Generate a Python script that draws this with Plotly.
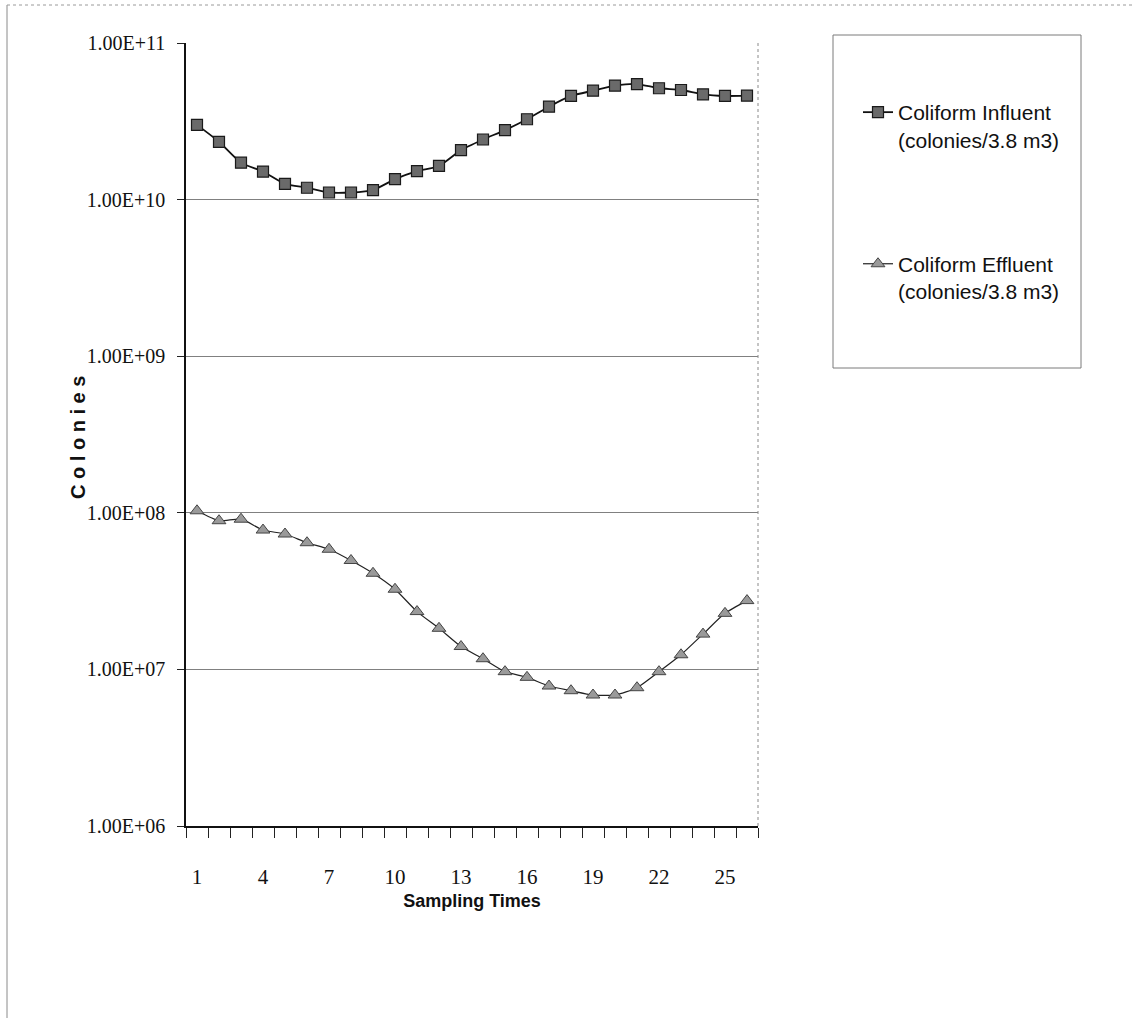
import plotly.graph_objects as go

# Sampling times 1..26
sampling_times = list(range(1, 27))

# Coliform counts (colonies / 3.8 m3)
influent = [3.0e10, 2.34e10, 1.72e10, 1.51e10, 1.26e10, 1.19e10, 1.11e10, 1.11e10,
            1.15e10, 1.35e10, 1.52e10, 1.64e10, 2.07e10, 2.42e10, 2.78e10, 3.26e10,
            3.92e10, 4.59e10, 4.96e10, 5.34e10, 5.47e10, 5.14e10, 5.01e10, 4.70e10,
            4.59e10, 4.61e10]
effluent = [1.03e8, 8.9e7, 9.1e7, 7.76e7, 7.32e7, 6.44e7, 5.85e7, 4.96e7,
            4.11e7, 3.25e7, 2.34e7, 1.83e7, 1.40e7, 1.17e7, 9.67e6, 8.9e6,
            7.83e6, 7.31e6, 6.86e6, 6.86e6, 7.64e6, 9.67e6, 1.24e7, 1.68e7,
            2.28e7, 2.75e7]

x_tick_labels = [1, 4, 7, 10, 13, 16, 19, 22, 25]
y_tick_vals = [1e6, 1e7, 1e8, 1e9, 1e10, 1e11]
y_tick_text = ["1.00E+06", "1.00E+07", "1.00E+08", "1.00E+09", "1.00E+10", "1.00E+11"]

SERIF = "Liberation Serif, Times New Roman, serif"
NARROW = "Liberation Sans Narrow, Arial Narrow, Liberation Sans, Arial, sans-serif"
SANS = "Liberation Sans, Arial, sans-serif"

W, H = 1135, 1018
ML, MR, MT, MB = 186, 377, 43, 192
PW, PH = W - ML - MR, H - MT - MB


def px(xp):
    return (xp - ML) / PW


def py(yp):
    return (H - MB - yp) / PH


fig = go.Figure()

fig.add_trace(go.Scatter(
    x=sampling_times, y=influent, mode="lines+markers",
    name="Coliform Influent<br>(colonies/3.8 m3)",
    line=dict(color="#111111", width=1.8, shape="spline", smoothing=0.6),
    marker=dict(symbol="square", size=11, color="#6a6a6a",
                line=dict(color="#1a1a1a", width=1.2)),
    legendgroup="inf",
))
fig.add_trace(go.Scatter(
    x=sampling_times, y=effluent, mode="lines+markers",
    name="Coliform Effluent<br>(colonies/3.8 m3)",
    line=dict(color="#222222", width=1.2, shape="spline", smoothing=0.6),
    marker=dict(symbol="triangle-up", size=12, color="#9a9a9a",
                line=dict(color="#444444", width=1)),
    legendgroup="eff",
))

fig.update_layout(
    width=W, height=H,
    margin=dict(l=ML, r=MR, t=MT, b=MB),
    paper_bgcolor="white", plot_bgcolor="white",
    showlegend=True,
    legend=dict(
        x=px(858), y=py(92), xanchor="left", yanchor="top",
        font=dict(family=NARROW, size=21, color="#111111"),
        bgcolor="rgba(0,0,0,0)", borderwidth=0,
        valign="top", tracegroupgap=94, traceorder="grouped",
    ),
    xaxis=dict(
        range=[0.5, 26.5],
        tickmode="array", tickvals=x_tick_labels,
        ticktext=[str(v) for v in x_tick_labels],
        ticks="", ticklabelstandoff=31,
        tickfont=dict(family=SERIF, size=21, color="#111111"),
        showgrid=False, zeroline=False,
        showline=True, linecolor="#111111", linewidth=1.5,
        minor=dict(tickmode="linear", tick0=0.5, dtick=1, ticks="outside",
                   ticklen=10, tickcolor="#222222", tickwidth=1, showgrid=False),
        title=dict(text="<b>Sampling Times</b>", standoff=6,
                   font=dict(family=NARROW, size=18, color="#111111")),
    ),
    yaxis=dict(
        type="log", range=[6, 11],
        tickmode="array", tickvals=y_tick_vals, ticktext=y_tick_text,
        ticks="outside", ticklen=7, tickcolor="#222222", ticklabelstandoff=8,
        tickfont=dict(family=SERIF, size=20, color="#111111"),
        showgrid=True, gridcolor="#808080", gridwidth=1,
        zeroline=False,
        showline=True, linecolor="#111111", linewidth=1.5,
    ),
    annotations=[
        dict(text="<b>C o l o n i e s</b>", xref="paper", yref="paper",
             x=px(78), y=py(438), xanchor="center", yanchor="middle",
             textangle=-90, showarrow=False,
             font=dict(family=SANS, size=20, color="#111111")),
    ],
    shapes=[
        # legend frame
        dict(type="rect", xref="paper", yref="paper",
             x0=px(833), x1=px(1081), y0=py(368), y1=py(35),
             line=dict(color="#7a7a7a", width=1), fillcolor="rgba(0,0,0,0)"),
        # right edge of plot area
        dict(type="line", xref="paper", yref="paper", x0=1, x1=1, y0=0, y1=1,
             line=dict(color="#8a8a8a", width=1, dash="dot")),
        # outer chart frame (left and top edges)
        dict(type="line", xref="paper", yref="paper",
             x0=px(7), x1=px(7), y0=py(1018), y1=py(5),
             line=dict(color="#8a8a8a", width=1)),
        dict(type="line", xref="paper", yref="paper",
             x0=px(7), x1=px(1135), y0=py(5), y1=py(5),
             line=dict(color="#9a9a9a", width=1, dash="dot")),
    ],
)

fig.write_html("out.html")
